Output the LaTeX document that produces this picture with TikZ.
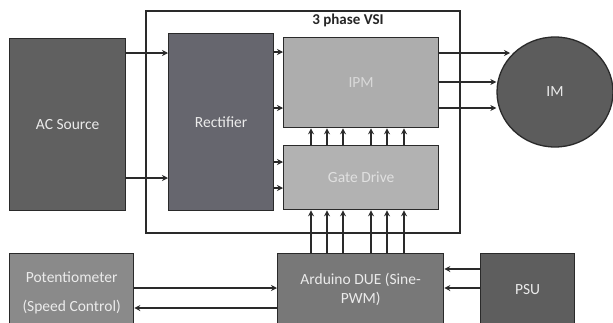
\documentclass[tikz,border=0pt]{standalone}
\usepackage{fontspec}
\setmainfont{Carlito}
\usetikzlibrary{shapes.geometric,arrows.meta}
\definecolor{cac}{HTML}{606060}
\definecolor{crect}{HTML}{66666E}
\definecolor{cipm}{HTML}{ADADAD}
\definecolor{cgd}{HTML}{B2B2B2}
\definecolor{cim}{HTML}{5C5C5C}
\definecolor{cpot}{HTML}{8A8A8A}
\definecolor{card}{HTML}{787878}
\definecolor{cpsu}{HTML}{5E5E5E}
\definecolor{cline}{HTML}{2A2A2A}
\tikzset{
  blk/.style={draw=cline, line width=1.3pt, anchor=north west, inner sep=0pt,
    text=white!92!black, align=center, font=\fontsize{15.5}{18.5}\selectfont},
  arr/.style={-{Stealth[length=6pt,width=6pt]}, line width=1.3pt, draw=cline},
}
\begin{document}
\begin{tikzpicture}[x=1pt,y=-1pt]
\useasboundingbox (0,0) rectangle (613,322);
\clip (0,0) rectangle (613,322);
\fill[white] (0,0) rectangle (613,322);
% outer VSI frame
\node[draw=cline, line width=1.6pt, anchor=north west, inner sep=0pt,
  minimum width=314pt, minimum height=222pt] (vsi) at (145,10) {};
\node[font=\bfseries\fontsize{15}{18}\selectfont, text=black!85] (vsit) at (348,20) {3 phase VSI};
% blocks
\node[blk, fill=cac, minimum width=116pt, minimum height=172pt] (ac) at (9,38) {AC Source};
\node[blk, fill=crect, minimum width=105pt, minimum height=177pt] (rect) at (168,33) {Rectifier};
\node[blk, fill=cipm, minimum width=155pt, minimum height=90pt, text=white!85!black] (ipm) at (283,37) {IPM};
\node[blk, fill=cgd, minimum width=155pt, minimum height=64pt, text=white!88!black] (gd) at (283,145) {Gate Drive};
\node[ellipse, draw=cline, line width=1.3pt, fill=cim, inner sep=0pt, text=white!92!black,
  font=\fontsize{15.5}{18.5}\selectfont, minimum width=116pt, minimum height=110pt] (im) at (555,92) {IM};
\node[blk, fill=cpot, minimum width=124pt, minimum height=78pt] (pot) at (9,253) {Potentiometer\\[10pt](Speed Control)};
\node[blk, fill=card, minimum width=166pt, minimum height=72pt] (ard) at (277,253) {Arduino DUE (Sine-\\PWM)};
\node[blk, fill=cpsu, minimum width=94pt, minimum height=72pt] (psu) at (480,253) {PSU};
% AC -> rectifier
\foreach \yy in {53,178} \draw[arr] (ac.east|-{(0,\yy)}) -- (rect.west|-{(0,\yy)});
% rectifier -> IPM / gate drive
\foreach \yy in {52,108} \draw[arr] (rect.east|-{(0,\yy)}) -- (ipm.west|-{(0,\yy)});
\foreach \yy in {162,188} \draw[arr] (rect.east|-{(0,\yy)}) -- (gd.west|-{(0,\yy)});
% gate drive -> IPM, arduino -> gate drive
\foreach \xx in {311,327,343,371,387,404} {
  \draw[arr] (gd.north-|{(\xx,0)}) -- (ipm.south-|{(\xx,0)});
  \draw[arr] (ard.north-|{(\xx,0)}) -- (gd.south-|{(\xx,0)});
}
% IPM -> IM
\coordinate (imtop) at (510,53);
\draw[arr] (ipm.east|-{(0,53)}) -- (imtop);
\foreach \yy in {82,108} \draw[arr] (ipm.east|-{(0,\yy)}) -- (im.west|-{(0,\yy)});
% potentiometer <-> arduino
\draw[arr] (pot.east|-{(0,288)}) -- (ard.west|-{(0,288)});
\draw[arr] (ard.west|-{(0,308)}) -- (pot.east|-{(0,308)});
% PSU -> arduino
\foreach \yy in {269,288} \draw[arr] (psu.west|-{(0,\yy)}) -- (ard.east|-{(0,\yy)});
\end{tikzpicture}
\end{document}
